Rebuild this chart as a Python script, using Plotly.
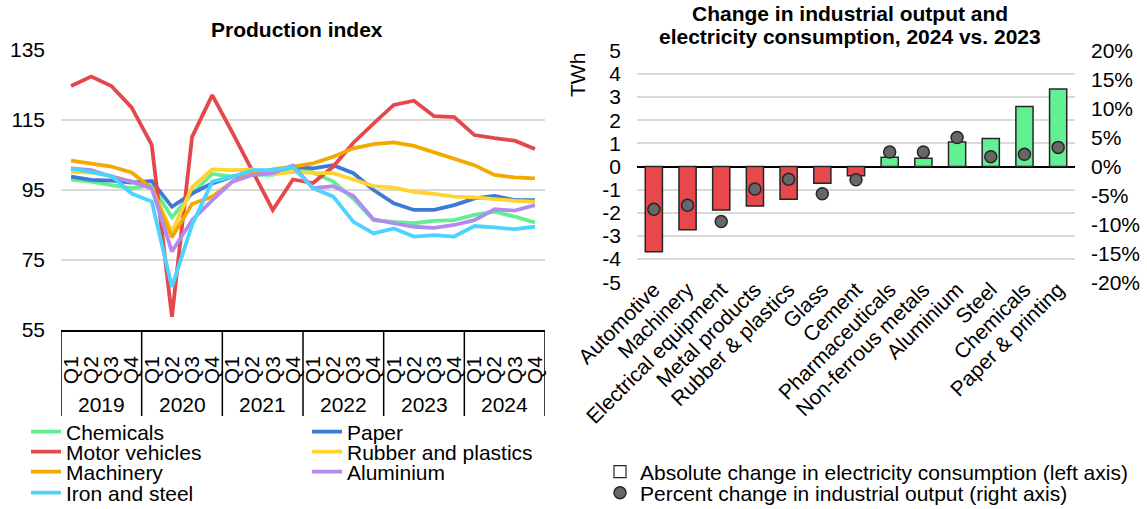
import plotly.graph_objects as go

W, H = 1147, 509

# ---------------- data: left chart ----------------
years = ["2019", "2020", "2021", "2022", "2023", "2024"]
quarters = ["Q1", "Q2", "Q3", "Q4"]
quarter_labels = [q for y in years for q in quarters]

chemicals = [98.0, 97.4, 96.4, 95.5, 96.4, 87.2, 94.0, 99.6, 98.8, 99.3, 99.3, 101.5,
             100.0, 97.4, 92.5, 86.4, 85.9, 85.5, 86.2, 86.4, 87.9, 88.8, 87.4, 85.7]
paper = [98.8, 97.9, 97.7, 97.1, 97.6, 90.2, 94.0, 96.9, 98.8, 100.2, 100.0, 101.7,
         101.2, 102.1, 99.8, 95.0, 91.2, 89.3, 89.3, 90.7, 92.6, 93.3, 92.1, 92.1]
motor_vehicles = [124.7, 127.4, 124.7, 118.6, 107.9, 58.8, 110.2, 122.1, 111.4, 100.1, 89.3, 98.0,
                  97.0, 101.7, 108.5, 114.0, 119.3, 120.5, 116.1, 115.8, 110.7, 109.8, 109.1, 106.7]
rubber_plastics = [100.2, 100.0, 99.0, 97.4, 95.5, 83.0, 95.8, 100.9, 100.7, 100.8, 99.5, 100.2,
                   99.9, 99.8, 98.0, 96.1, 95.7, 94.5, 93.9, 93.1, 92.9, 92.3, 91.9, 91.7]
machinery = [103.4, 102.6, 101.7, 100.0, 95.5, 81.5, 91.0, 93.1, 97.4, 99.8, 100.9, 101.7,
             102.6, 104.5, 106.9, 108.1, 108.6, 107.6, 105.8, 103.8, 102.1, 99.3, 98.6, 98.3]
aluminium = [101.2, 100.7, 98.8, 97.4, 95.5, 77.4, 86.4, 92.1, 97.4, 99.3, 99.8, 102.0,
             95.5, 96.1, 93.3, 86.6, 85.5, 84.5, 84.2, 85.0, 86.4, 89.5, 89.1, 90.7]
iron_steel = [101.2, 100.2, 99.0, 94.0, 91.7, 67.3, 85.0, 97.4, 98.8, 100.7, 100.7, 101.5,
              95.5, 93.1, 85.9, 82.6, 84.0, 81.7, 82.1, 81.7, 84.7, 84.3, 83.8, 84.5]

series_names = ["Chemicals", "Paper", "Motor vehicles", "Rubber and plastics",
                "Machinery", "Aluminium", "Iron and steel"]
series_values = [chemicals, paper, motor_vehicles, rubber_plastics,
                 machinery, aluminium, iron_steel]
series_colors = ["#63EE90", "#3B7BD6", "#E5484B", "#FFD42E",
                 "#F2A900", "#B38AF0", "#4CD3FF"]

left_ticks = [55, 75, 95, 115, 135]

# ---------------- data: right chart ----------------
sectors = ["Automotive", "Machinery", "Electrical equipment", "Metal products",
           "Rubber & plastics", "Glass", "Cement", "Pharmaceuticals",
           "Non-ferrous metals", "Aluminium", "Steel", "Chemicals", "Paper & printing"]
elec_change_twh = [-3.68, -2.73, -1.88, -1.71, -1.41, -0.72, -0.40,
                   0.40, 0.36, 1.06, 1.21, 2.59, 3.35]
output_change_pct = [-7.4, -6.7, -9.5, -3.9, -2.2, -4.7, -2.3,
                     2.5, 2.5, 5.0, 1.7, 2.1, 3.3]
twh_ticks = list(range(-5, 6))
pct_ticks = list(range(-20, 21, 5))

FONT = "Liberation Sans, Arial, sans-serif"
FS = 21


def px_x(p):
    return p / W


def px_y(p):
    return 1 - p / H


fig = go.Figure()

# left chart lines
x_idx = list(range(len(quarter_labels)))
for i, (name, vals, col) in enumerate(zip(series_names, series_values, series_colors)):
    fig.add_trace(go.Scatter(
        x=x_idx, y=vals, mode="lines", name=name,
        line=dict(color=col, width=3.8),
        xaxis="x", yaxis="y",
        legend="legend" if i == 0 else f"legend{i + 1}",
        hoverinfo="skip",
    ))

# right chart bars
bar_colors = ["#E6484B" if v < 0 else "#62F092" for v in elec_change_twh]
fig.add_trace(go.Bar(
    x=sectors, y=elec_change_twh, width=0.51,
    marker=dict(color=bar_colors, line=dict(color="#262626", width=1.5)),
    xaxis="x2", yaxis="y2", showlegend=False,
))
# legend entry for bars (white box)
fig.add_trace(go.Scatter(
    x=[None], y=[None], mode="markers",
    name="Absolute change in electricity consumption (left axis)",
    marker=dict(symbol="square", size=12, color="white", line=dict(color="#262626", width=1.2)),
    xaxis="x2", yaxis="y2", legend="legend8",
))
# dots
fig.add_trace(go.Scatter(
    x=sectors, y=output_change_pct, mode="markers",
    name="Percent change in industrial output (right axis)",
    marker=dict(size=12, color="#676767", line=dict(color="#262626", width=1.5)),
    xaxis="x2", yaxis="y3", legend="legend9",
))

# ---------- legends ----------
leg_common = dict(bgcolor="rgba(0,0,0,0)", borderwidth=0, font=dict(size=FS, family=FONT, color="black"),
                  xanchor="left", yanchor="middle", orientation="v", itemclick=False, itemdoubleclick=False)
left_leg_pos = {  # series index -> (x px, y px)
    0: (26, 432), 2: (26, 452), 4: (26, 472), 6: (26, 493),
    1: (307, 432), 3: (307, 452), 5: (307, 472),
}
legends = {}
for i, (lx, ly) in left_leg_pos.items():
    key = "legend" if i == 0 else f"legend{i + 1}"
    legends[key] = dict(leg_common, x=px_x(lx), y=px_y(ly))
legends["legend8"] = dict(leg_common, x=px_x(600), y=px_y(472))
legends["legend9"] = dict(leg_common, x=px_x(600), y=px_y(493))

# ---------- axes ----------
left_xdom = [px_x(61), px_x(545)]
left_ydom = [px_y(330), px_y(50)]
right_xdom = [px_x(637), px_x(1075)]
right_ydom = [px_y(282.3), px_y(50.7)]

fig.update_layout(
    width=W, height=H, autosize=False,
    margin=dict(l=0, r=0, t=0, b=0, pad=0, autoexpand=False),
    paper_bgcolor="white", plot_bgcolor="white",
    font=dict(family=FONT, size=FS, color="black"),
    bargap=0.49,
    xaxis=dict(domain=left_xdom, anchor="y", range=[-0.5, len(quarter_labels) - 0.5],
               tickvals=x_idx, ticktext=quarter_labels, tickangle=-90,
               showgrid=False, zeroline=False, showline=True, linecolor="black", linewidth=1.5,
               ticks="", ticklabelstandoff=16, fixedrange=True),
    yaxis=dict(domain=left_ydom, anchor="x", range=[55, 135], tickvals=left_ticks,
               showgrid=True, gridcolor="#d9d9d9", gridwidth=1.5, zeroline=False,
               showline=False, ticks="", ticklabelstandoff=15, fixedrange=True),
    xaxis2=dict(domain=right_xdom, anchor="y2", type="category", tickangle=-45,
                range=[-0.5, len(sectors) - 0.5],
                showgrid=False, zeroline=False, showline=False, ticks="",
                ticklabelstandoff=-10, fixedrange=True),
    yaxis2=dict(domain=right_ydom, anchor="x2", range=[-5, 5], tickvals=twh_ticks,
                ticktext=[str(v) for v in twh_ticks],
                showgrid=True, gridcolor="#d9d9d9", gridwidth=1.5,
                zeroline=True, zerolinecolor="black", zerolinewidth=1.5,
                showline=False, ticks="", ticklabelstandoff=15, fixedrange=True),
    yaxis3=dict(overlaying="y2", anchor="x2", side="right", range=[-20, 20],
                tickvals=pct_ticks, ticktext=[f"{v}%" for v in pct_ticks],
                showgrid=False, zeroline=False, showline=False, ticks="",
                ticklabelstandoff=15, fixedrange=True),
    **legends,
)

# year labels and separators of the category table
sep_y0, sep_y1 = px_y(330), px_y(416)
for k, yr in enumerate(years):
    fig.add_annotation(x=k * 4 + 1.5, xref="x", y=px_y(404), yref="paper",
                       text=yr, showarrow=False, font=dict(size=FS),
                       xanchor="center", yanchor="middle")
for k in range(len(years) + 1):
    fig.add_shape(type="line", xref="x", yref="paper", x0=k * 4 - 0.5, x1=k * 4 - 0.5,
                  y0=sep_y0, y1=sep_y1, line=dict(color="black", width=1.5))

# titles
fig.add_annotation(x=px_x(297), y=px_y(30), xref="paper", yref="paper", showarrow=False,
                   text="<b>Production index</b>", font=dict(size=FS),
                   xanchor="center", yanchor="middle")
fig.add_annotation(x=px_x(850), y=px_y(13), xref="paper", yref="paper", showarrow=False,
                   text="<b>Change in industrial output and</b>", font=dict(size=FS),
                   xanchor="center", yanchor="middle")
fig.add_annotation(x=px_x(850), y=px_y(36), xref="paper", yref="paper", showarrow=False,
                   text="<b>electricity consumption, 2024 vs. 2023</b>", font=dict(size=FS),
                   xanchor="center", yanchor="middle")
fig.add_annotation(x=px_x(578), y=px_y(75), xref="paper", yref="paper", showarrow=False,
                   text="TWh", textangle=-90, font=dict(size=FS), yanchor="middle", xanchor="center")

# remove the default page margin so the figure fills the window exactly
fig.write_html("out.html", config={"displayModeBar": False},
               post_script="document.body.style.margin='0';document.body.style.overflow='hidden';")
